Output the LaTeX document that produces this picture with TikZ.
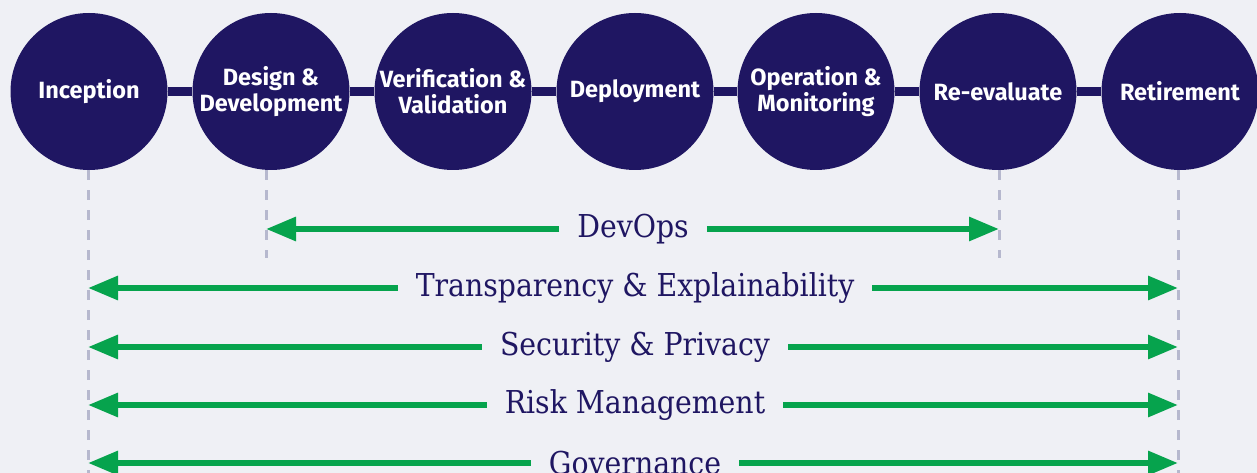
\documentclass[tikz,border=0pt]{standalone}
\usepackage{fontspec}
\setmainfont{DejaVu Serif Condensed}
\newfontfamily\stagefont{Fira Sans}
\usetikzlibrary{arrows.meta}
\definecolor{bg}{RGB}{239,240,245}
\definecolor{navy}{RGB}{31,22,98}
\definecolor{leaf}{RGB}{6,163,77}
\definecolor{guidegray}{RGB}{182,184,206}
\tikzset{
  stage/.style={circle, fill=navy, minimum size=157pt, inner sep=0pt, align=center,
    text=white, font=\stagefont\bfseries\fontsize{23.5}{26}\selectfont},
  link/.style={navy, line width=9pt},
  guide/.style={guidegray, line width=3pt, dash pattern=on 10pt off 10pt},
  span/.style={fill=bg, text=navy, inner xsep=18pt, inner ysep=2pt,
    font=\fontsize{31.5}{34}\selectfont},
  arr/.style={leaf, line width=6pt, -{Triangle[length=30pt,width=23pt]}}
}
\begin{document}
\begin{tikzpicture}[x=1pt, y=-1pt]
\useasboundingbox (0,0) rectangle (1257,473);
\fill[bg] (0,0) rectangle (1257,473);

% lifecycle stages
\node[stage] (s1) at (89,91.5)   {Inception};
\node[stage] (s2) at (271,91.5)  {Design \&\\Development};
\node[stage] (s3) at (453,91.5)  {Verification \&\\Validation};
\node[stage] (s4) at (635,91.5)  {Deployment};
\node[stage] (s5) at (816,91.5)  {Operation \&\\Monitoring};
\node[stage] (s6) at (998,91.5)  {Re-evaluate};
\node[stage] (s7) at (1180,91.5) {Retirement};
\foreach \a/\b in {s1/s2,s2/s3,s3/s4,s4/s5,s5/s6,s6/s7}
  \draw[link] (\a) -- (\b);

% guide lines below the stages
\coordinate (g1) at (88,170);   \coordinate (g1b) at (88,473);
\coordinate (g2) at (266,170);  \coordinate (g2b) at (266,258);
\coordinate (g6) at (999,170);  \coordinate (g6b) at (999,258);
\coordinate (g7) at (1178,170); \coordinate (g7b) at (1178,473);
\draw[guide] (g1) -- (g1b);
\draw[guide] (g2) -- (g2b);
\draw[guide] (g6) -- (g6b);
\draw[guide] (g7) -- (g7b);

% spans across the lifecycle
\node[span] (devops) at (633,229) {DevOps};
\draw[arr] (devops.west) -- (devops.west -| g2);
\draw[arr] (devops.east) -- (devops.east -| g6);

\foreach \n/\y/\t in {tr/288/{Transparency \& Explainability},
                      sp/347/{Security \& Privacy},
                      rm/405/{Risk Management},
                      gv/463/{Governance}} {
  \node[span] (\n) at (635,\y) {\t};
  \draw[arr] (\n.west) -- (\n.west -| g1);
  \draw[arr] (\n.east) -- (\n.east -| g7);
}
\end{tikzpicture}
\end{document}
